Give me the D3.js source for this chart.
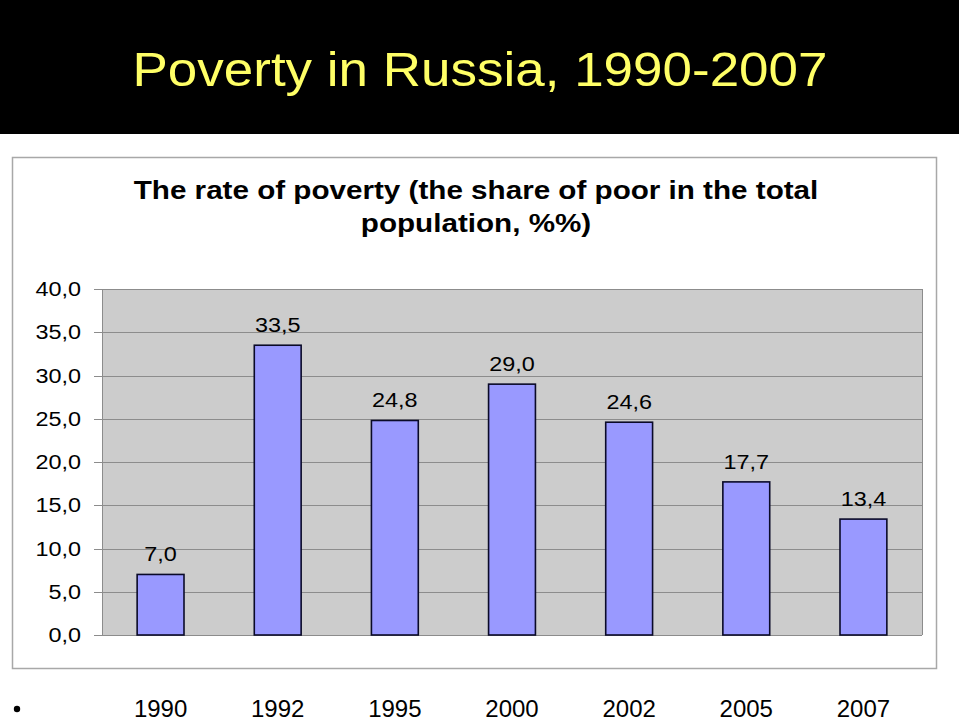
<!DOCTYPE html>
<html><head><meta charset="utf-8">
<script src="https://cdn.jsdelivr.net/npm/d3@7"></script>
<style>html,body{margin:0;padding:0;background:#fff;overflow:hidden}</style>
</head><body>
<script>
const years = ["1990","1992","1995","2000","2002","2005","2007"];
const rates = [7.0, 33.5, 24.8, 29.0, 24.6, 17.7, 13.4];
const yTicks = [0,5,10,15,20,25,30,35,40];
const slideTitle = "Poverty in Russia, 1990-2007";
const chartTitle = ["The rate of poverty (the share of poor in the total", "population, %%)"];

const W = 959, H = 721;
const svg = d3.select("body").append("svg").attr("width", W).attr("height", H)
  .style("font-family", "'Liberation Sans', Arial, Helvetica, sans-serif");

svg.append("rect").attr("x",0).attr("y",0).attr("width",W).attr("height",134).attr("fill","#000");
const st = svg.append("text").attr("x",480).attr("y",86).attr("text-anchor","middle")
  .attr("font-size",49).attr("fill","#ffff66").text(slideTitle);
st.attr("textLength",695).attr("lengthAdjust","spacingAndGlyphs");

// outer chart box
svg.append("rect").attr("x",12.5).attr("y",157.5).attr("width",924).attr("height",511)
  .attr("fill","#fff").attr("stroke","#a8a8a8").attr("stroke-width",1.5);

const fmt = v => d3.format(".1f")(v).replace(".", ",");
const sx = 1.2;

chartTitle.forEach((t,i)=>{
  svg.append("text").attr("transform",`translate(476,${199+33*i}) scale(1.14,1)`)
    .attr("text-anchor","middle").attr("font-weight","bold").attr("font-size",26)
    .attr("fill","#000").text(t);
});

const m = {l:102, r:922, t:289, b:635};
const x = d3.scaleBand().domain(years).range([m.l, m.r]).paddingInner(0.6).paddingOuter(0.3);
const y = d3.scaleLinear().domain([0,40]).range([m.b, m.t]);

svg.append("rect").attr("x",m.l).attr("y",m.t).attr("width",m.r-m.l).attr("height",m.b-m.t)
  .attr("fill","#cccccc");

const g = svg.append("g");
g.selectAll("line.grid").data(yTicks).join("line").attr("class","grid")
  .attr("x1",94).attr("x2",m.r).attr("y1",d=>Math.round(y(d))+0.5).attr("y2",d=>Math.round(y(d))+0.5)
  .attr("stroke","#8c8c8c").attr("stroke-width",1);
svg.append("line").attr("x1",m.l+0.5).attr("x2",m.l+0.5).attr("y1",m.t).attr("y2",m.b)
  .attr("stroke","#8c8c8c");
svg.append("line").attr("x1",m.r+0.5).attr("x2",m.r+0.5).attr("y1",m.t).attr("y2",m.b)
  .attr("stroke","#8c8c8c");

g.selectAll("text.yl").data(yTicks).join("text").attr("class","yl")
  .attr("transform",d=>`translate(81,${y(d)+7}) scale(${sx},1)`)
  .attr("text-anchor","end").attr("font-size",19.5).attr("fill","#000").text(fmt);

const bars = svg.append("g");
bars.selectAll("rect").data(rates).join("rect")
  .attr("x",(d,i)=>x(years[i])).attr("y",d=>y(d))
  .attr("width",x.bandwidth()).attr("height",d=>y(0)-y(d))
  .attr("fill","#9999ff").attr("stroke","#0a0a28").attr("stroke-width",1.6);

bars.selectAll("text").data(rates).join("text")
  .attr("transform",(d,i)=>`translate(${x(years[i])+x.bandwidth()/2},${y(d)-13}) scale(${sx},1)`)
  .attr("text-anchor","middle").attr("font-size",19.5).attr("fill","#000").text(fmt);

// x labels below box (slide text)
svg.selectAll("text.xl").data(years).join("text").attr("class","xl")
  .attr("x",d=>x(d)+x.bandwidth()/2).attr("y",717).attr("text-anchor","middle")
  .attr("font-size",24).attr("fill","#000").text(d=>d);
svg.append("circle").attr("cx",17).attr("cy",709).attr("r",3.2).attr("fill","#000");
</script>
</body></html>
